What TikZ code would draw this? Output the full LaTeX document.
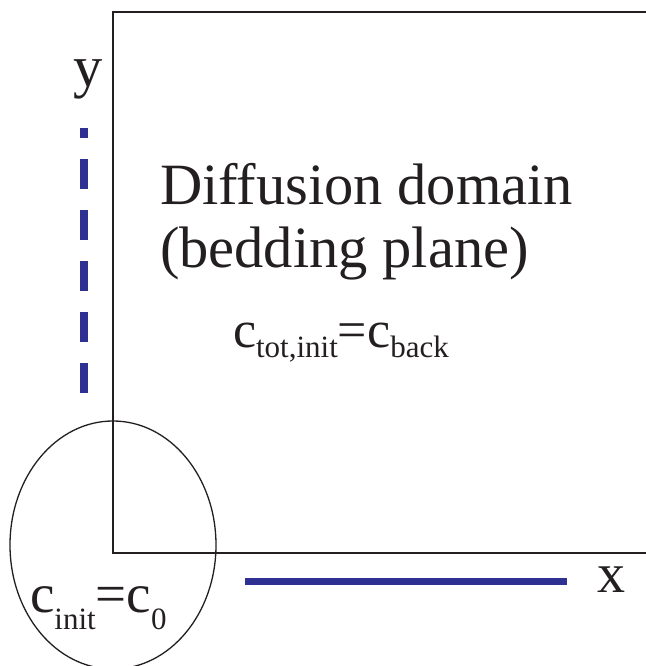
\documentclass[tikz,border=0pt]{standalone}
\usepackage{fontspec}
\usetikzlibrary{shapes.geometric}
\setmainfont{Liberation Serif}
\definecolor{axisblue}{RGB}{46,49,146}
\definecolor{ink}{RGB}{35,31,32}
\newcommand{\bigtxt}{\fontsize{58.5}{62}\selectfont}
\newcommand{\fmain}{\fontsize{52}{56}\selectfont}
\newcommand{\fsub}{\fontsize{31}{34}\selectfont}
\newcommand{\gmain}{\fontsize{55}{58}\selectfont}
\newcommand{\gsub}{\fontsize{31}{34}\selectfont}
\begin{document}
\begin{tikzpicture}[x=1pt,y=1pt,
  frameline/.style={draw=ink,line width=1.5pt},
  ringline/.style={draw=ink,line width=1.3pt},
  bluedash/.style={draw=axisblue,line width=8pt,dash pattern=on 30pt off 21pt},
  blueline/.style={draw=axisblue,line width=7pt},
  lbl/.style={inner sep=0pt,outer sep=0pt,anchor=base west,text=ink}]
\useasboundingbox (0,0) rectangle (645,666);
% domain frame (open to the right)
\coordinate (tr) at (650,654);
\coordinate (tl) at (113,654);
\coordinate (bl) at (113,113);
\coordinate (br) at (650,113);
\draw[frameline] (tr) -- (tl) -- (bl) -- (br);
% source ellipse
\node[ringline,ellipse,minimum width=206pt,minimum height=248pt,inner sep=0pt] (src) at (113,121) {};
% axes
\coordinate (ybot) at (84,273);
\coordinate (ytop) at (84,538);
\draw[bluedash] (ybot) -- (ytop);
\coordinate (xl) at (245,84);
\coordinate (xr) at (567,84);
\draw[blueline] (xl) -- (xr);
% labels
\node[lbl] (ylab) at (73,579) {\bigtxt y};
\node[lbl] (xlab) at (597,73) {\fontsize{56}{60}\selectfont x};
\node[lbl] (title1) at (160,461) {\bigtxt Diffusion domain};
\node[lbl] (title2) at (160,398) {\bigtxt (bedding plane)};
\node[lbl] (cback) at (233,318) {\fmain c\raisebox{-10pt}{\fsub tot,init}=c\raisebox{-10pt}{\fsub back}};
\node[lbl] (czero) at (30,53) {\gmain c\raisebox{-17pt}{\gsub init}=c\raisebox{-17pt}{\gsub 0}};
\end{tikzpicture}
\end{document}
